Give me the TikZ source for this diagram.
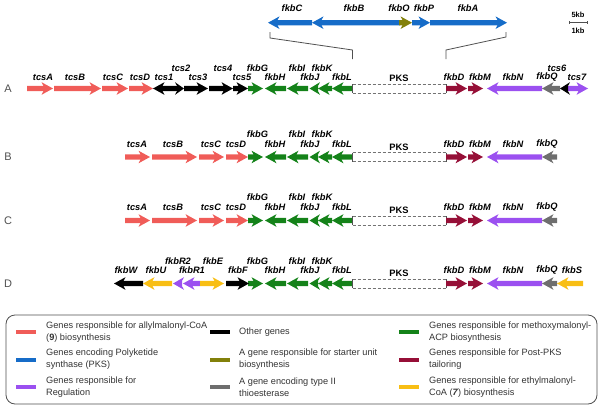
\documentclass[tikz,border=0pt]{standalone}
\usepackage{fontspec}
\setmainfont{Liberation Sans}
\definecolor{gred}{RGB}{240,92,88}
\definecolor{gblue}{RGB}{22,108,200}
\definecolor{golive}{RGB}{130,128,10}
\definecolor{ggreen}{RGB}{20,130,25}
\definecolor{gmaroon}{RGB}{150,15,55}
\definecolor{gpurple}{RGB}{155,80,240}
\definecolor{ggray}{RGB}{110,110,110}
\definecolor{gyellow}{RGB}{248,190,20}
\definecolor{lgray}{RGB}{80,80,80}
\newcommand{\gene}[4]{%
 \pgfmathsetmacro{\gsg}{sign(#2-#1)}%
 \pgfmathsetmacro{\ghl}{min(9.5,abs(#2-#1))}%
 \pgfmathsetmacro{\ghb}{#2-\gsg*\ghl}%
 \pgfmathsetmacro{\ghn}{\ghb-\gsg*2}%
 \fill[#4] (#1,#3-2.6) -- (\ghb,#3-2.6) -- (\ghn,#3-6.3) -- (#2,#3) -- (\ghn,#3+6.3) -- (\ghb,#3+2.6) -- (#1,#3+2.6) -- cycle;}
\tikzset{
 glab/.style={font=\bfseries\itshape\fontsize{9.3}{10}\selectfont, inner sep=0pt},
 pkslab/.style={font=\bfseries\fontsize{9.3}{10}\selectfont, inner sep=0pt},
 rowlab/.style={font=\fontsize{11}{12}\selectfont, inner sep=0pt, text=lgray},
 legtxt/.style={font=\fontsize{9.2}{12}\selectfont, inner sep=0pt, anchor=west, align=left, text=black!80},
 zoomline/.style={draw=lgray, line width=0.8pt},
 swatch/.style={line width=4pt}
}
\begin{document}
\begin{tikzpicture}[x=1pt,y=-1pt]
\useasboundingbox (0,0) rectangle (600,407);
% ---- top PKS detail ----
\gene{312}{268}{22.7}{gblue}
\gene{400}{312}{22.7}{gblue}
\gene{412}{430}{22.7}{gblue}
\gene{430}{507}{22.7}{gblue}
\gene{399}{412}{22.7}{golive}
\node[glab] (t-fkbC) at (292,8.5) {fkbC};
\node[glab] (t-fkbB) at (354,8.5) {fkbB};
\node[glab] (t-fkbO) at (399,8.5) {fkbO};
\node[glab] (t-fkbP) at (424,8.5) {fkbP};
\node[glab] (t-fkbA) at (468,8.5) {fkbA};
% scale bar
\node[font=\bfseries\fontsize{7.5}{8}\selectfont, inner sep=0pt] (s5) at (578,15) {5kb};
\node[font=\bfseries\fontsize{7.5}{8}\selectfont, inner sep=0pt] (s1) at (578,30.5) {1kb};
\draw[line width=0.6pt, lgray] (569,22.7) -- (587,22.7) (569,21) -- (569,24.4) (587,21) -- (587,24.4);
% ---- row letters ----
\node[rowlab] (rA) at (8,88.5) {A};
\node[rowlab] (rB) at (8,157) {B};
\node[rowlab] (rC) at (8,220.5) {C};
\node[rowlab] (rD) at (8,283.5) {D};
% ---- common right part ----
\foreach \r/\y/\lo/\up in {A/88.5/11/20.5, B/157/13/23, C/220.5/13/23, D/283.5/13/22.5}{
 \gene{248}{263}{\y}{ggreen}
 \gene{286}{265}{\y}{ggreen}
 \gene{308}{287}{\y}{ggreen}
 \gene{318}{309.5}{\y}{ggreen}
 \gene{332}{318}{\y}{ggreen}
 \gene{352.5}{332}{\y}{ggreen}
 \node[draw=none, fill=white, minimum width=94pt, minimum height=9pt, inner sep=0pt] (\r-PKS) at (399,\y) {};
 \draw[lgray, line width=0.7pt] (352.5,\y-4.5) -- (352.5,\y+4.5) (446,\y-4.5) -- (446,\y+4.5);
 \draw[lgray!80, line width=0.7pt, dash pattern=on 3pt off 2pt] (352.5,\y-4.5) -- (446,\y-4.5) (352.5,\y+4.5) -- (446,\y+4.5);
 \gene{446}{467}{\y}{gmaroon}
 \gene{468}{483}{\y}{gmaroon}
 \gene{542}{487}{\y}{gpurple}
 \node[glab] (\r-fkbG) at (257.5,\y-\up) {fkbG};
 \node[glab] (\r-fkbH) at (275,\y-\lo) {fkbH};
 \node[glab] (\r-fkbI) at (297,\y-\up) {fkbI};
 \node[glab] (\r-fkbJ) at (310,\y-\lo) {fkbJ};
 \node[glab] (\r-fkbK) at (322,\y-\up) {fkbK};
 \node[glab] (\r-fkbL) at (342,\y-\lo) {fkbL};
 \node[pkslab] (\r-PKSl) at (399,\y-10) {PKS};
 \node[glab] (\r-fkbD) at (454,\y-\lo) {fkbD};
 \node[glab] (\r-fkbM) at (480,\y-\lo) {fkbM};
 \node[glab] (\r-fkbN) at (513,\y-\lo) {fkbN};
 \node[glab] (\r-fkbQ) at (547,\y-\lo) {fkbQ};
}
% ---- row A ----
\gene{27}{53}{88.5}{gred}
\gene{54}{101}{88.5}{gred}
\gene{102}{128}{88.5}{gred}
\gene{129}{153}{88.5}{gred}
\gene{177}{153}{88.5}{black}
\gene{177}{184}{88.5}{black}
\gene{184}{208}{88.5}{black}
\gene{209}{233}{88.5}{black}
\gene{233}{248}{88.5}{black}
\gene{560}{542}{88.5}{ggray}
\gene{566}{588}{88.5}{gpurple}
\gene{568}{560}{88.5}{black}
\node[glab] (A-tcsA) at (43,77.5) {tcsA};
\node[glab] (A-tcsB) at (75,77.5) {tcsB};
\node[glab] (A-tcsC) at (113,77.5) {tcsC};
\node[glab] (A-tcsD) at (140,77.5) {tcsD};
\node[glab] (A-tcs1) at (164,77.5) {tcs1};
\node[glab] (A-tcs2) at (181,68) {tcs2};
\node[glab] (A-tcs3) at (198,77.5) {tcs3};
\node[glab] (A-tcs4) at (223,68) {tcs4};
\node[glab] (A-tcs5) at (242,77.5) {tcs5};
\node[glab] (A-tcs6) at (557,68) {tcs6};
\node[glab] (A-tcs7) at (577,77.5) {tcs7};
% ---- rows B and C ----
\foreach \r/\y in {B/157, C/220.5}{
 \gene{125}{150}{\y}{gred}
 \gene{152}{197}{\y}{gred}
 \gene{199}{224}{\y}{gred}
 \gene{226}{248}{\y}{gred}
 \gene{557}{542}{\y}{ggray}
 \node[glab] (\r-tcsA) at (137,\y-13) {tcsA};
 \node[glab] (\r-tcsB) at (173,\y-13) {tcsB};
 \node[glab] (\r-tcsC) at (211,\y-13) {tcsC};
 \node[glab] (\r-tcsD) at (236,\y-13) {tcsD};
}
% ---- row D ----
\gene{143}{114}{283.5}{black}
\gene{172}{143}{283.5}{gyellow}
\gene{182}{173}{283.5}{gpurple}
\gene{200}{183}{283.5}{gpurple}
\gene{200}{224}{283.5}{gyellow}
\gene{226}{249}{283.5}{black}
\gene{557}{542}{283.5}{ggray}
\gene{583}{557}{283.5}{gyellow}
\node[glab] (D-fkbW) at (126,270.5) {fkbW};
\node[glab] (D-fkbU) at (156,270.5) {fkbU};
\node[glab] (D-fkbR2) at (178,261) {fkbR2};
\node[glab] (D-fkbR1) at (192,270.5) {fkbR1};
\node[glab] (D-fkbE) at (213,261) {fkbE};
\node[glab] (D-fkbF) at (238,270.5) {fkbF};
\node[glab] (D-fkbS) at (572,270.5) {fkbS};
% ---- zoom lines ----
\coordinate (zl1) at (270,32);
\coordinate (zl2) at (270,38);
\coordinate (zl3) at (352.5,50);
\coordinate (zl4) at (352.5,59);
\coordinate (zr1) at (506,32);
\coordinate (zr2) at (506,37);
\coordinate (zr3) at (446,50);
\coordinate (zr4) at (446,59);
\draw[zoomline] (zl1) -- (zl2) -- (zl3) -- (zl4);
\draw[zoomline] (zr1) -- (zr2) -- (zr3) -- (zr4);
% ---- legend ----
\draw[draw=lgray, line width=0.8pt, rounded corners=9pt] (6,315) rectangle (597,404);
\draw[swatch, gred] (16,332) -- (36,332);
\draw[swatch, gblue] (16,359.5) -- (36,359.5);
\draw[swatch, gpurple] (16,387) -- (36,387);
\draw[swatch, black] (210,332) -- (230,332);
\draw[swatch, golive] (210,359.5) -- (230,359.5);
\draw[swatch, ggray] (210,387) -- (230,387);
\draw[swatch, ggreen] (399,332) -- (419,332);
\draw[swatch, gmaroon] (399,359.5) -- (419,359.5);
\draw[swatch, gyellow] (399,387) -- (419,387);
\node[legtxt] (L1) at (46,332) {Genes responsible for allylmalonyl-CoA\\(\textbf{9}) biosynthesis};
\node[legtxt] (L2) at (46,359.5) {Genes encoding Polyketide\\synthase (PKS)};
\node[legtxt] (L3) at (46,387) {Genes responsible for\\Regulation};
\node[legtxt] (L4) at (239,332) {Other genes};
\node[legtxt] (L5) at (239,359.5) {A gene responsible for starter unit\\biosynthesis};
\node[legtxt] (L6) at (239,387) {A gene encoding type II\\thioesterase};
\node[legtxt] (L7) at (429,332) {Genes responsible for methoxymalonyl-\\ACP biosynthesis};
\node[legtxt] (L8) at (429,359.5) {Genes responsible for Post-PKS\\tailoring};
\node[legtxt] (L9) at (429,387) {Genes responsible for ethylmalonyl-\\CoA (\textbf{\textit{7}}) biosynthesis};
\end{tikzpicture}
\end{document}
